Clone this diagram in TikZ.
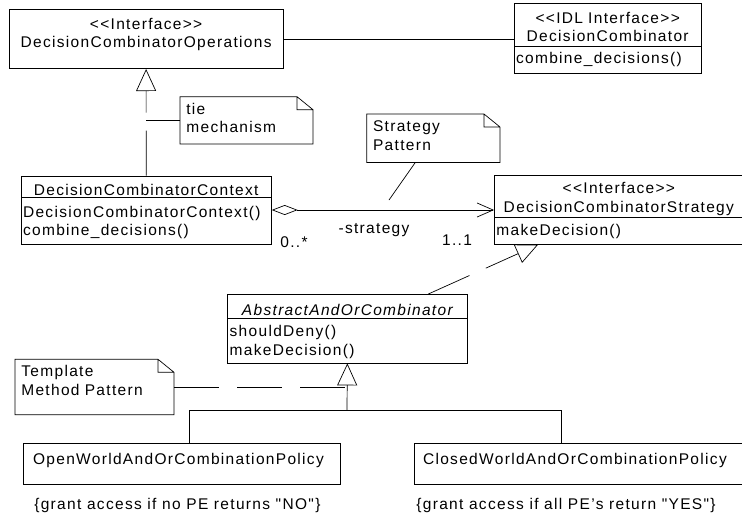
\documentclass[tikz,border=0pt]{standalone}
\usepackage{fontspec}
\setmainfont{Liberation Sans}[LetterSpace=8.5,Ligatures=TeXOff]
\usetikzlibrary{arrows.meta}

\begin{document}
\begin{tikzpicture}
  [x=1pt,y=-1pt,line width=0.7pt,
   every node/.style={font=\fontsize{15.5}{18.7}\selectfont,inner sep=0pt},
   cls/.style={draw,anchor=north west,align=center},
   mth/.style={draw,anchor=north west,align=left,inner xsep=2pt},
   note/.style={anchor=north west,align=left,inner xsep=6pt},
   tie/.style={dash pattern=on 45pt off 18pt},
   realize/.style={tie,-{Triangle[open,length=22pt,width=20pt]}},
   inherit/.style={-{Triangle[open,length=22pt,width=20pt]}},
   aggregate/.style={{Diamond[open,length=26pt,width=10pt]}-{Straight Barb[length=16pt,width=14pt]}}]
  \useasboundingbox (0,0) rectangle (742,517);

  % classes
  \node[cls,text width=273.5pt,text height=19.5pt,text depth=39.5pt] (C_1) at (9,9.3)
    {<<Interface>>\\DecisionCombinatorOperations};
  \node[cls,text width=187.3pt,text height=19.5pt,text depth=22.9pt] (C_2) at (513.7,3.3)
    {<<IDL Interface>>\\DecisionCombinator};
  \node[mth,text width=183.3pt,text height=17.8pt,text depth=9.2pt] (C_2m) at (513.7,45.7)
    {combine\_decisions()};
  \node[cls,text width=250.3pt,text height=19.5pt,text depth=1.8pt] (C_3) at (20.7,175.7)
    {DecisionCombinatorContext};
  \node[mth,text width=246.3pt,text height=19.7pt,text depth=27.3pt] (C_3m) at (20.7,197)
    {DecisionCombinatorContext()\\combine\_decisions()};
  \node[cls,text width=249pt,text height=18.5pt,text depth=23.8pt] (C_4) at (494,175)
    {<<Interface>>\\DecisionCombinatorStrategy};
  \node[mth,text width=245pt,text height=18.2pt,text depth=8.5pt] (C_4m) at (494,217.3)
    {makeDecision()};
  \node[cls,text width=239.4pt,text height=20.8pt,text depth=3.5pt] (C_5) at (227.3,294)
    {\itshape AbstractAndOrCombinator};
  \node[mth,text width=235.4pt,text height=17.9pt,text depth=26.5pt] (C_5m) at (227.3,318.3)
    {shouldDeny()\\makeDecision()};
  \node[mth,inner xsep=10pt,text width=297.3pt,text height=21.2pt,text depth=19.5pt] (C_6) at (22.7,443.3)
    {OpenWorldAndOrCombinationPolicy};
  \node[mth,inner xsep=9pt,text width=313.3pt,text height=21.2pt,text depth=19.5pt] (C_7) at (413.7,443.3)
    {ClosedWorldAndOrCombinationPolicy};

  % notes
  \node[note,text width=120.3pt,text height=17.1pt,text depth=29.5pt] (N_1) at (180,96.7) {tie\\mechanism};
  \node[note,text width=120.6pt,text height=17.5pt,text depth=30.2pt] (N_2) at (366.7,114) {Strategy\\Pattern};
  \node[note,text width=146.3pt,text height=17.2pt,text depth=37.5pt] (N_3) at (15,359.3) {Template\\Method Pattern};
  \foreach \n in {N_1,N_2,N_3}
    \draw (\n.north west) -- ([xshift=-16pt]\n.north east) -- ([yshift=-13pt]\n.north east)
      -- (\n.south east) -- (\n.south west) -- cycle
      ([xshift=-16pt]\n.north east) |- ([yshift=-13pt]\n.north east);

  % labels
  \node (L_1) at (374,230) {-strategy};
  \node (L_2) at (294,241.7) {0..*};
  \node (L_3) at (457,240) {1..1};
  \node[anchor=base] (L_4) at (177.4,509) {\{grant access if no PE returns "NO"\}};
  \node[anchor=base] (L_5) at (566,509) {\{grant access if all PE’s return "YES"\}};

  % connectors
  \coordinate (A_1) at ([yshift=-13pt]C_3m.north east);
  \coordinate (P_1) at (389,200);
  \coordinate (J_1) at (347,410.7);
  \draw (C_1.east) -- (C_1.east -| C_2.west);
  \draw[realize] (C_3.north) -- (C_1.south);
  \draw (N_1.west) -- (N_1.west -| C_1.south);
  \draw[aggregate] (A_1) -- (A_1 -| C_4.west);
  \draw ([xshift=-18pt]N_2.south) -- (P_1);
  \draw[realize] ([xshift=81pt]C_5.north) -- ([xshift=44pt]C_4m.south west);
  \draw[tie] (N_3.east) -- (N_3.east -| C_5m.south);
  \foreach \c/\dx in {C_6/166.3,C_7/147.3}
    \draw ([xshift=\dx pt]\c.north west) |- (J_1);
  \draw[inherit] (J_1) -- (C_5m.south);

\end{tikzpicture}
\end{document}
